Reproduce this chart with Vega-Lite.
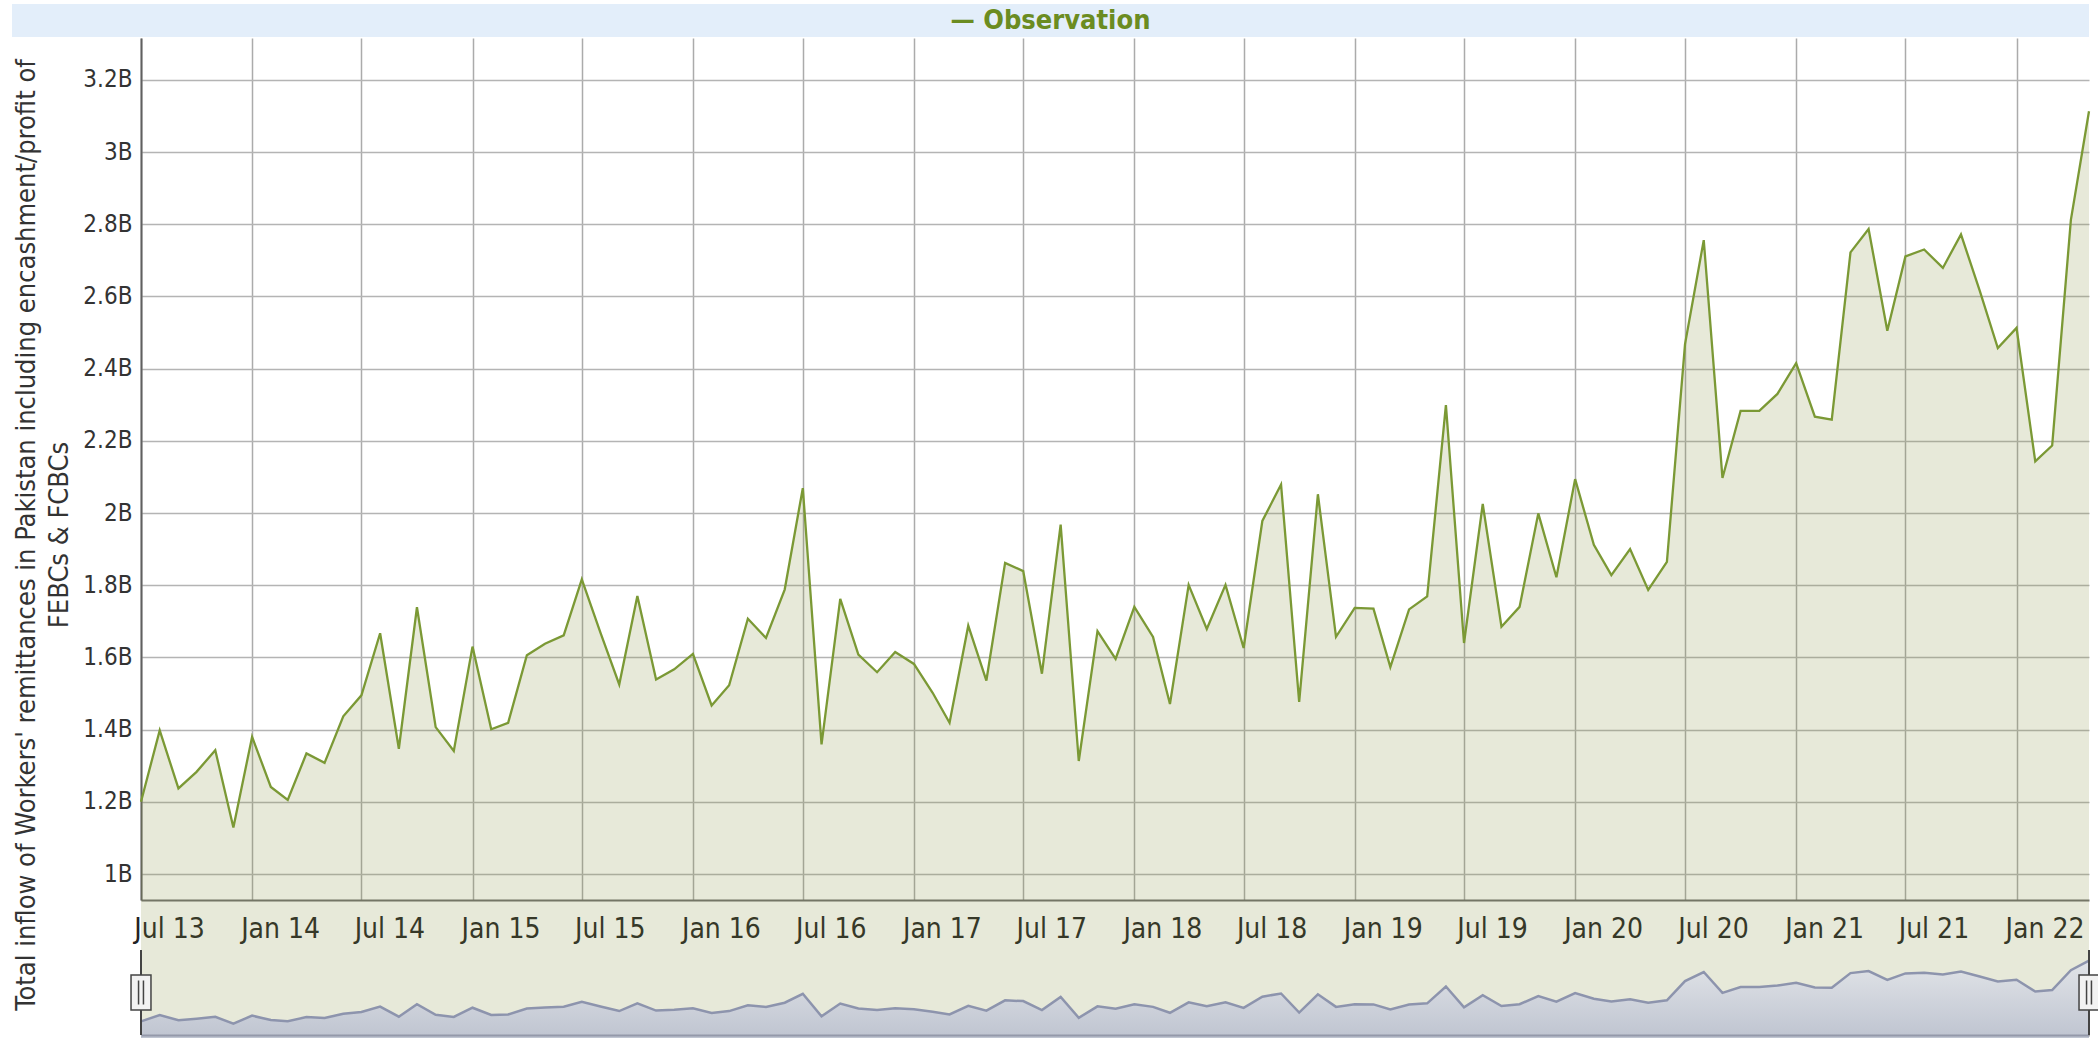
{
  "$schema": "https://vega.github.io/schema/vega-lite/v6.json",
  "background": "white",
  "padding": {"left": 12, "top": 4, "right": 0, "bottom": 0},
  "autosize": {"type": "pad"},
  "config": {
    "font": "'DejaVu Sans Condensed', 'Liberation Sans Narrow', 'DejaVu Sans', sans-serif",
    "view": {"stroke": null}
  },
  "datasets": {
    "remit": [
      {"date": "2013-07-01", "value": 1.200},
      {"date": "2013-08-01", "value": 1.398},
      {"date": "2013-09-01", "value": 1.237},
      {"date": "2013-10-01", "value": 1.283},
      {"date": "2013-11-01", "value": 1.343},
      {"date": "2013-12-01", "value": 1.129},
      {"date": "2014-01-01", "value": 1.380},
      {"date": "2014-02-01", "value": 1.241},
      {"date": "2014-03-01", "value": 1.205},
      {"date": "2014-04-01", "value": 1.334},
      {"date": "2014-05-01", "value": 1.308},
      {"date": "2014-06-01", "value": 1.437},
      {"date": "2014-07-01", "value": 1.495},
      {"date": "2014-08-01", "value": 1.667},
      {"date": "2014-09-01", "value": 1.347},
      {"date": "2014-10-01", "value": 1.739},
      {"date": "2014-11-01", "value": 1.407},
      {"date": "2014-12-01", "value": 1.341},
      {"date": "2015-01-01", "value": 1.630},
      {"date": "2015-02-01", "value": 1.401},
      {"date": "2015-03-01", "value": 1.419},
      {"date": "2015-04-01", "value": 1.606},
      {"date": "2015-05-01", "value": 1.638},
      {"date": "2015-06-01", "value": 1.661},
      {"date": "2015-07-01", "value": 1.816},
      {"date": "2015-08-01", "value": 1.668},
      {"date": "2015-09-01", "value": 1.525},
      {"date": "2015-10-01", "value": 1.770},
      {"date": "2015-11-01", "value": 1.539},
      {"date": "2015-12-01", "value": 1.567},
      {"date": "2016-01-01", "value": 1.610},
      {"date": "2016-02-01", "value": 1.467},
      {"date": "2016-03-01", "value": 1.523},
      {"date": "2016-04-01", "value": 1.707},
      {"date": "2016-05-01", "value": 1.654},
      {"date": "2016-06-01", "value": 1.788},
      {"date": "2016-07-01", "value": 2.069},
      {"date": "2016-08-01", "value": 1.359},
      {"date": "2016-09-01", "value": 1.762},
      {"date": "2016-10-01", "value": 1.608},
      {"date": "2016-11-01", "value": 1.559},
      {"date": "2016-12-01", "value": 1.615},
      {"date": "2017-01-01", "value": 1.582},
      {"date": "2017-02-01", "value": 1.502},
      {"date": "2017-03-01", "value": 1.419},
      {"date": "2017-04-01", "value": 1.688},
      {"date": "2017-05-01", "value": 1.536},
      {"date": "2017-06-01", "value": 1.862},
      {"date": "2017-07-01", "value": 1.839},
      {"date": "2017-08-01", "value": 1.555},
      {"date": "2017-09-01", "value": 1.968},
      {"date": "2017-10-01", "value": 1.313},
      {"date": "2017-11-01", "value": 1.673},
      {"date": "2017-12-01", "value": 1.596},
      {"date": "2018-01-01", "value": 1.740},
      {"date": "2018-02-01", "value": 1.657},
      {"date": "2018-03-01", "value": 1.471},
      {"date": "2018-04-01", "value": 1.801},
      {"date": "2018-05-01", "value": 1.679},
      {"date": "2018-06-01", "value": 1.801},
      {"date": "2018-07-01", "value": 1.626},
      {"date": "2018-08-01", "value": 1.978},
      {"date": "2018-09-01", "value": 2.079},
      {"date": "2018-10-01", "value": 1.477},
      {"date": "2018-11-01", "value": 2.052},
      {"date": "2018-12-01", "value": 1.657},
      {"date": "2019-01-01", "value": 1.737},
      {"date": "2019-02-01", "value": 1.735},
      {"date": "2019-03-01", "value": 1.573},
      {"date": "2019-04-01", "value": 1.733},
      {"date": "2019-05-01", "value": 1.769},
      {"date": "2019-06-01", "value": 2.299},
      {"date": "2019-07-01", "value": 1.640},
      {"date": "2019-08-01", "value": 2.025},
      {"date": "2019-09-01", "value": 1.685},
      {"date": "2019-10-01", "value": 1.740},
      {"date": "2019-11-01", "value": 1.999},
      {"date": "2019-12-01", "value": 1.822},
      {"date": "2020-01-01", "value": 2.094},
      {"date": "2020-02-01", "value": 1.912},
      {"date": "2020-03-01", "value": 1.828},
      {"date": "2020-04-01", "value": 1.900},
      {"date": "2020-05-01", "value": 1.787},
      {"date": "2020-06-01", "value": 1.865},
      {"date": "2020-07-01", "value": 2.468},
      {"date": "2020-08-01", "value": 2.756},
      {"date": "2020-09-01", "value": 2.097},
      {"date": "2020-10-01", "value": 2.283},
      {"date": "2020-11-01", "value": 2.283},
      {"date": "2020-12-01", "value": 2.330},
      {"date": "2021-01-01", "value": 2.415},
      {"date": "2021-02-01", "value": 2.267},
      {"date": "2021-03-01", "value": 2.259},
      {"date": "2021-04-01", "value": 2.722},
      {"date": "2021-05-01", "value": 2.787},
      {"date": "2021-06-01", "value": 2.505},
      {"date": "2021-07-01", "value": 2.711},
      {"date": "2021-08-01", "value": 2.730},
      {"date": "2021-09-01", "value": 2.679},
      {"date": "2021-10-01", "value": 2.772},
      {"date": "2021-11-01", "value": 2.616},
      {"date": "2021-12-01", "value": 2.457},
      {"date": "2022-01-01", "value": 2.513},
      {"date": "2022-02-01", "value": 2.143},
      {"date": "2022-03-01", "value": 2.187},
      {"date": "2022-04-01", "value": 2.812},
      {"date": "2022-05-01", "value": 3.113}
    ],
    "handles": [
      {"date": "2013-07-01"},
      {"date": "2022-05-01"}
    ],
    "legend": [
      {"label": "— Observation"}
    ],
    "ytitle": [
      {"title": "Total inflow of Workers' remittances in Pakistan including encashment/profit of\nFEBCs & FCBCs"}
    ]
  },
  "spacing": 1,
  "vconcat": [
    {
      "width": 2077,
      "height": 33,
      "view": {"fill": "#e3eefa", "stroke": null},
      "data": {"name": "legend"},
      "mark": {"type": "text", "fontSize": 27, "fontWeight": "bold", "color": "#6b8c21", "baseline": "middle", "align": "center"},
      "encoding": {"text": {"field": "label", "type": "nominal"}}
    },
    {
      "spacing": 8,
      "hconcat": [
        {
          "width": 30,
          "height": 994,
          "data": {"name": "ytitle"},
          "mark": {"type": "text", "fontSize": 27, "angle": 270, "lineBreak": "\n", "lineHeight": 33, "color": "#333333", "align": "center", "baseline": "middle"},
          "encoding": {"text": {"field": "title", "type": "nominal"}}
        },
        {
          "bounds": "flush",
          "spacing": 50,
          "vconcat": [
            {
              "width": 1948,
              "height": 862,
              "data": {"name": "remit"},
              "encoding": {
                "x": {
                  "field": "date",
                  "type": "temporal",
                  "scale": {"type": "utc", "domain": [{"year": 2013, "month": 7, "date": 1, "utc": true}, {"year": 2022, "month": 5, "date": 1, "utc": true}], "nice": false},
                  "axis": {
                    "title": null,
                    "tickCount": {"interval": "month", "step": 6},
                    "format": "%b %y",
                    "labelFontSize": 28,
                    "labelColor": "#222222",
                    "labelPadding": 15,
                    "ticks": false,
                    "tickSize": 0,
                    "labelAlign": "center",
                    "labelOffset": 28,
                    "labelFlush": false,
                    "labelOverlap": false,
                    "grid": true,
                    "gridColor": "#ababab",
                    "gridWidth": 1.5,
                    "domain": true,
                    "domainColor": "#707070",
                    "domainWidth": 2
                  }
                },
                "y": {
                  "field": "value",
                  "type": "quantitative",
                  "scale": {"domain": [0.928, 3.316], "nice": false, "zero": false},
                  "axis": {
                    "title": null,
                    "values": [1, 1.2, 1.4, 1.6, 1.8, 2, 2.2, 2.4, 2.6, 2.8, 3, 3.2],
                    "labelExpr": "format(datum.value, '~g') + 'B'",
                    "labelFontSize": 24,
                    "labelColor": "#333333",
                    "labelPadding": 9,
                    "ticks": false,
                    "tickSize": 0,
                    "grid": true,
                    "gridColor": "#b4b4b4",
                    "gridWidth": 1.5,
                    "domain": true,
                    "domainColor": "#606060",
                    "domainWidth": 2
                  }
                }
              },
              "layer": [
                {"mark": {"type": "area", "color": "#87913f", "fillOpacity": 0.2}},
                {"mark": {"type": "line", "color": "#7b9935", "strokeWidth": 2.3}}
              ]
            },
            {
              "width": 1948,
              "height": 85,
              "encoding": {
                "x": {
                  "field": "date",
                  "type": "temporal",
                  "scale": {"type": "utc", "domain": [{"year": 2013, "month": 7, "date": 1, "utc": true}, {"year": 2022, "month": 5, "date": 1, "utc": true}], "nice": false},
                  "axis": {"title": null, "labels": false, "ticks": false, "grid": false, "domain": true, "domainColor": "#555555", "domainWidth": 2}
                }
              },
              "layer": [
                {
                  "data": {"name": "remit"},
                  "mark": {
                    "type": "area",
                    "color": {"gradient": "linear", "x1": 0, "y1": 0, "x2": 0, "y2": 1, "stops": [{"offset": 0, "color": "#dfe2ee"}, {"offset": 1, "color": "#a0a8c4"}]},
                    "line": {"color": "#8d94ad", "strokeWidth": 2.5}
                  },
                  "encoding": {
                    "y": {
                      "field": "value",
                      "type": "quantitative",
                      "scale": {"domain": [0.77, 3.45], "nice": false, "zero": false},
                      "axis": null
                    }
                  }
                },
                {
                  "data": {"name": "handles"},
                  "mark": {"type": "rule", "color": "#444444", "strokeWidth": 2},
                  "encoding": {}
                },
                {
                  "data": {"name": "handles"},
                  "mark": {
                    "type": "point",
                    "shape": "M-0.57,-1L0.57,-1L0.57,1L-0.57,1ZM-0.14,-0.68L-0.14,0.68M0.14,-0.68L0.14,0.68",
                    "size": 1225,
                    "filled": true,
                    "fill": "#f2f2f2",
                    "stroke": "#444444",
                    "strokeWidth": 1.5,
                    "opacity": 1
                  },
                  "encoding": {}
                }
              ]
            }
          ]
        }
      ]
    }
  ]
}
